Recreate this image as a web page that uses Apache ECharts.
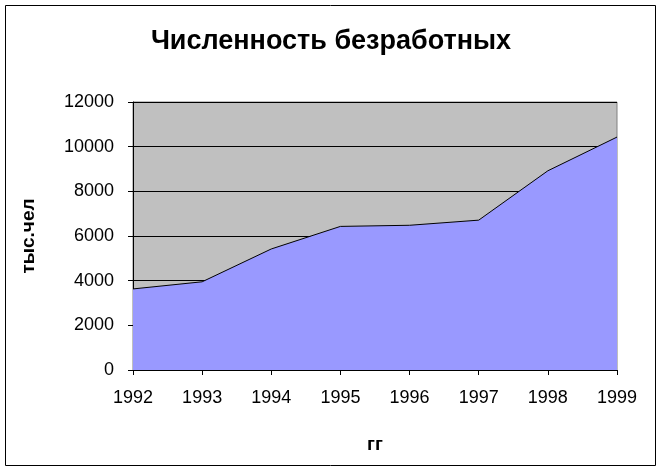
<!DOCTYPE html>
<html>
<head>
<meta charset="utf-8">
<script src="https://cdn.jsdelivr.net/npm/echarts@6/dist/echarts.min.js"></script>
<style>html,body{margin:0;padding:0;background:#fff;}#c{width:662px;height:473px;}</style>
</head>
<body>
<div id="c"></div>
<script>
const years = ['1992','1993','1994','1995','1996','1997','1998','1999'];
const unemployed = [3630, 3950, 5420, 6430, 6480, 6710, 8920, 10430];
const titleText = 'Численность безработных';
const xName = 'гг';
const yName = 'тыс.чел';

const chart = echarts.init(document.getElementById('c'));
const font = '"Liberation Sans", Arial, sans-serif';
chart.setOption({
  animation: false,
  backgroundColor: '#fff',
  textStyle: { fontFamily: font },
  title: {
    text: titleText, left: 'center', top: 23,
    textStyle: { fontFamily: font, fontSize: 27, fontWeight: 'bold', color: '#000' }
  },
  graphic: [{
    type: 'rect', shape: { x: 5.5, y: 5.5, width: 650, height: 460 },
    style: { fill: 'none', stroke: '#000', lineWidth: 1 }, z: -1
  }],
  grid: {
    left: 133, top: 102, right: 45, bottom: 103,
    show: true, backgroundColor: '#C0C0C0', borderColor: '#808080', borderWidth: 1
  },
  xAxis: {
    type: 'category', data: years, boundaryGap: false,
    name: xName, nameLocation: 'middle', nameGap: 65,
    nameTextStyle: { fontFamily: font, fontSize: 19, fontWeight: 'bold', color: '#000' },
    axisLine: { lineStyle: { color: '#000', width: 1 } },
    axisTick: { show: true, length: 5, alignWithLabel: true, lineStyle: { color: '#000' } },
    axisLabel: { fontFamily: font, fontSize: 18, color: '#000', margin: 19 },
    splitLine: { show: false }
  },
  yAxis: {
    type: 'value', min: 0, max: 12000, interval: 2000,
    name: yName, nameLocation: 'middle', nameGap: 95, nameRotate: 90,
    nameTextStyle: { fontFamily: font, fontSize: 19, fontWeight: 'bold', color: '#000' },
    axisLine: { show: true, lineStyle: { color: '#000', width: 1 } },
    axisTick: { show: true, length: 5, lineStyle: { color: '#000' } },
    axisLabel: { fontFamily: font, fontSize: 18, color: '#000', margin: 19, formatter: function (v) { return String(v); } },
    splitLine: { show: true, lineStyle: { color: '#000', width: 1 } }
  },
  series: [{
    type: 'line', data: unemployed, symbol: 'none',
    lineStyle: { color: '#000', width: 1 },
    areaStyle: { color: '#9999FF', opacity: 1 },
    z: 3
  }]
});
</script>
</body>
</html>
